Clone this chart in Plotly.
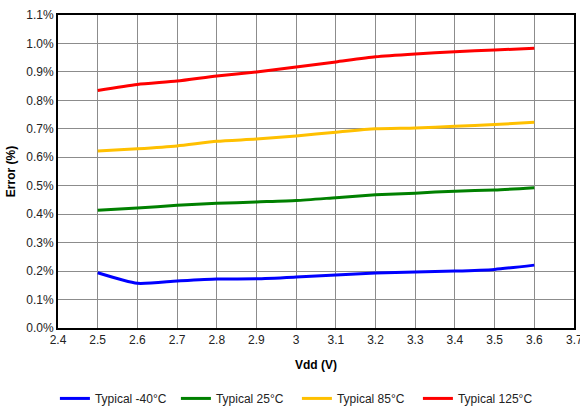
import plotly.graph_objects as go

vdd = [2.5, 2.6, 2.7, 2.8, 2.9, 3.0, 3.1, 3.2, 3.3, 3.4, 3.5, 3.6]

err_m40 = [0.194, 0.157, 0.165, 0.172, 0.173, 0.179, 0.186, 0.193, 0.197, 0.200, 0.206, 0.221]
err_25 = [0.414, 0.422, 0.431, 0.438, 0.443, 0.448, 0.458, 0.468, 0.474, 0.481, 0.485, 0.493]
err_85 = [0.622, 0.630, 0.640, 0.656, 0.664, 0.675, 0.688, 0.700, 0.703, 0.709, 0.715, 0.723]
err_125 = [0.835, 0.856, 0.868, 0.886, 0.900, 0.917, 0.935, 0.953, 0.963, 0.971, 0.977, 0.983]

# last x tick sits on the window edge; plotly drops it, so it is drawn as a note
edge_tick = 3.7

series = [
    ("Typical -40°C", err_m40, "#0000FF"),
    ("Typical 25°C", err_25, "#008000"),
    ("Typical 85°C", err_85, "#FFC000"),
    ("Typical 125°C", err_125, "#FF0000"),
]

font = "Liberation Sans, Arial, sans-serif"

fig = go.Figure()
for name, ys, col in series:
    fig.add_trace(go.Scatter(x=vdd, y=ys, name=name, mode="lines",
                             line=dict(color=col, width=3, shape="spline", smoothing=0.6)))

fig.add_annotation(x=edge_tick, xref="x", y=0, yref="y", yshift=-12,
                   text=str(edge_tick), showarrow=False,
                   font=dict(family=font, size=12, color="#222222"))

fig.update_layout(
    width=580,
    height=407,
    margin=dict(l=58, r=6, t=15, b=79, autoexpand=False),
    plot_bgcolor="white",
    paper_bgcolor="white",
    font=dict(family=font, size=12, color="#222222"),
    showlegend=True,
    legend=dict(orientation="h", x=0.463, xanchor="center", y=-0.225, yanchor="middle",
                entrywidth=76, font=dict(size=12)),
)
fig.update_xaxes(
    range=[2.4, 3.7], dtick=0.1, tick0=2.4, automargin=False,
    showgrid=True, gridcolor="#8c8c8c", gridwidth=1,
    showline=True, linecolor="black", linewidth=2, mirror=True,
    ticks="", zeroline=False,
    title=dict(text="<b>Vdd (V)</b>", standoff=14, font=dict(size=12, color="black")),
)
fig.update_yaxes(
    range=[0, 1.1], dtick=0.1, tickformat=".1f", ticksuffix="%", automargin=False,
    showgrid=True, gridcolor="#8c8c8c", gridwidth=1,
    showline=True, linecolor="black", linewidth=2, mirror=True,
    ticks="", zeroline=False,
    title=dict(text="<b>Error (%)</b>", standoff=8, font=dict(size=12, color="black")),
)

# drop the page's default body margin so the figure sits at the window's corner
fig.write_html("out.html", config={"displayModeBar": False},
               post_script="document.body.style.margin='0';")
